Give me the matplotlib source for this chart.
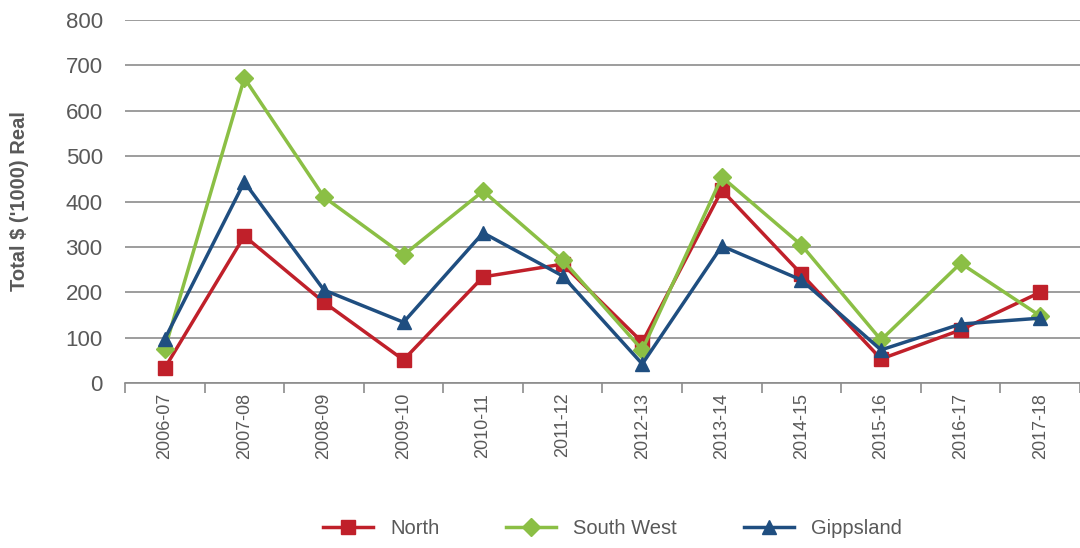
import matplotlib
matplotlib.use("Agg")
import matplotlib.pyplot as plt

years = ["2006-07", "2007-08", "2008-09", "2009-10", "2010-11", "2011-12",
         "2012-13", "2013-14", "2014-15", "2015-16", "2016-17", "2017-18"]
north = [33, 324, 178, 51, 234, 262, 90, 425, 240, 53, 117, 200]
south_west = [75, 672, 410, 282, 423, 271, 73, 454, 304, 95, 264, 148]
gippsland = [97, 443, 205, 134, 331, 236, 42, 302, 227, 73, 130, 143]

plt.rcParams['font.family'] = ['Liberation Sans', 'DejaVu Sans']
text_col = '#595959'

fig = plt.figure(figsize=(10.8, 5.48), dpi=100)
ax = fig.add_axes([0.1157, 0.301, 0.8843, 0.6625])

x = list(range(len(years)))
ax.plot(x, north, color='#C0202A', lw=2.5, marker='s', ms=10, label='North')
ax.plot(x, south_west, color='#8BBF45', lw=2.5, marker='D', ms=9, label='South West')
ax.plot(x, gippsland, color='#1F4E80', lw=2.5, marker='^', ms=10, label='Gippsland')

ax.set_xlim(-0.5, len(years) - 0.5)
ax.set_ylim(0, 800)
ax.set_yticks(range(0, 801, 100))
ax.yaxis.grid(True, color='#8c8c8c', lw=1.2)
ax.set_axisbelow(True)
for s in ['top', 'right', 'left']:
    ax.spines[s].set_visible(False)
ax.spines['bottom'].set_color('#8c8c8c')
ax.spines['bottom'].set_linewidth(1.2)

# category boundaries carry the ticks, labels sit in the middle
ax.set_xticks([i - 0.5 for i in range(len(years) + 1)], minor=False)
ax.set_xticklabels([])
ax.set_xticks(x, minor=True)
ax.set_xticklabels(years, minor=True, rotation=90, fontsize=13, color=text_col)
ax.tick_params(axis='x', which='major', length=7, color='#8c8c8c', width=1.2)
ax.tick_params(axis='x', which='minor', length=0, pad=7)
ax.tick_params(axis='y', length=0, labelsize=16, labelcolor=text_col, pad=16)

ax.set_ylabel("Total $ ('1000) Real", fontsize=14.5, fontweight='bold',
              color=text_col)
ax.yaxis.set_label_coords(-0.10, 0.5)

leg = fig.legend(loc='center', bbox_to_anchor=(0.567, 0.036), ncol=3, frameon=False,
                 fontsize=14.5, handlelength=2.5, columnspacing=3.3,
                 handletextpad=0.85)
for t in leg.get_texts():
    t.set_color(text_col)

fig.savefig("out.png", dpi=100)
